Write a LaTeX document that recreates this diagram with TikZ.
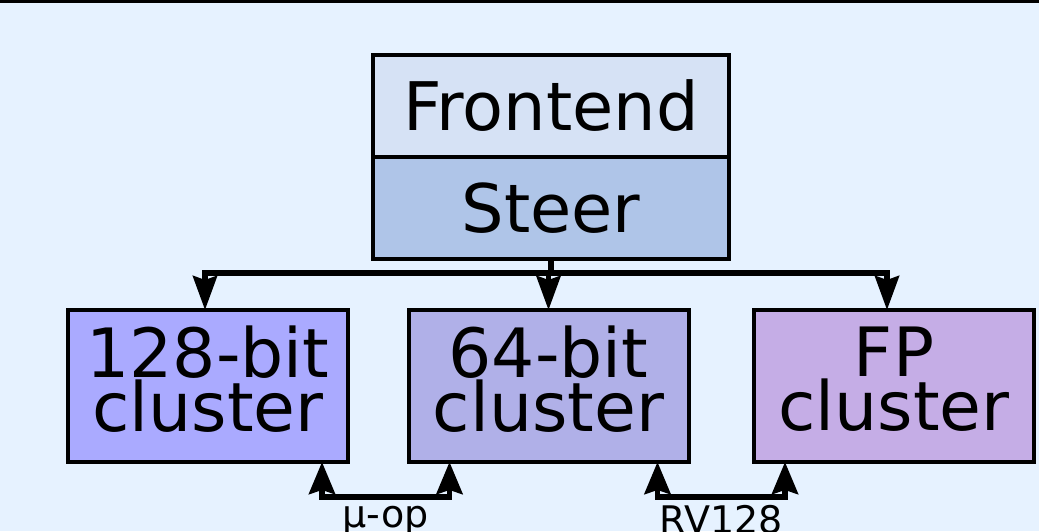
\documentclass[tikz,border=0pt]{standalone}
\usepackage{fontspec}
\setmainfont{DejaVu Sans}
\usetikzlibrary{arrows.meta}
\usetikzlibrary{positioning}

\definecolor{bgblue}{HTML}{E6F2FF}
\definecolor{fecol}{HTML}{D6E2F5}
\definecolor{stcol}{HTML}{AFC5E8}
\definecolor{cwide}{HTML}{AAAAFF}
\definecolor{cint}{HTML}{B0B0E8}
\definecolor{cfp}{HTML}{C5ADE6}

\begin{document}
\begin{tikzpicture}[x=1pt,y=-1pt,
    stage/.style={draw,line width=4pt,outer sep=0pt,
      minimum width=356pt,minimum height=102pt,
      font=\fontsize{67}{67}\selectfont},
    cluster/.style={draw,line width=4pt,outer sep=0pt,align=center,
      minimum width=280pt,minimum height=152pt,
      font=\fontsize{68}{54}\selectfont,
      execute at end node={\rule[-15pt]{0pt}{15pt}}},
    link/.style={line width=5.5pt,-{Stealth[length=34pt,width=24pt,inset=4pt]}},
    xlink/.style={line width=5.5pt,{Stealth[length=32pt,width=26pt,inset=4pt]}-{Stealth[length=32pt,width=26pt,inset=4pt]}},
    lbl/.style={below=6pt,font=\fontsize{38}{38}\selectfont,inner sep=0pt}]
  \useasboundingbox (0,0) rectangle (1039,531);
  \clip (0,0) rectangle (1039,531);
  \fill[bgblue] (0,0) rectangle (1039,531);
  \draw[line width=3pt] (0,1) -- (1039,1);

  % front end
  \node[stage,fill=fecol] (fe) at (551,106) {Frontend};
  \node[stage,fill=stcol,below=0pt of fe] (st) {Steer};

  % clusters
  \node[cluster,fill=cwide] (c_128) at (208,386) {128-bit\\cluster};
  \node[cluster,fill=cint]  (c_64)  at (548.5,386) {64-bit\\cluster};
  \node[cluster,fill=cfp]   (c_fp)  at (894,386) {FP\\cluster};

  \draw[link] (st.south) -- ++(0,14) -| ([xshift=-3pt]c_128.north);
  \draw[link] (st.south) -- ++(0,14) -| ([xshift=-7pt]c_fp.north);
  \draw[link] (st.south) -- ++(0,14) -| (c_64.north);

  \draw[xlink] ([xshift=114pt]c_128.south) -- ++(0,35)
    -| node[pos=0.25,lbl] {μ-op} ([xshift=-99pt]c_64.south);
  \draw[xlink] ([xshift=109pt]c_64.south) -- ++(0,35)
    -| node[pos=0.25,lbl] {RV128} ([xshift=-109pt]c_fp.south);
\end{tikzpicture}
\end{document}
